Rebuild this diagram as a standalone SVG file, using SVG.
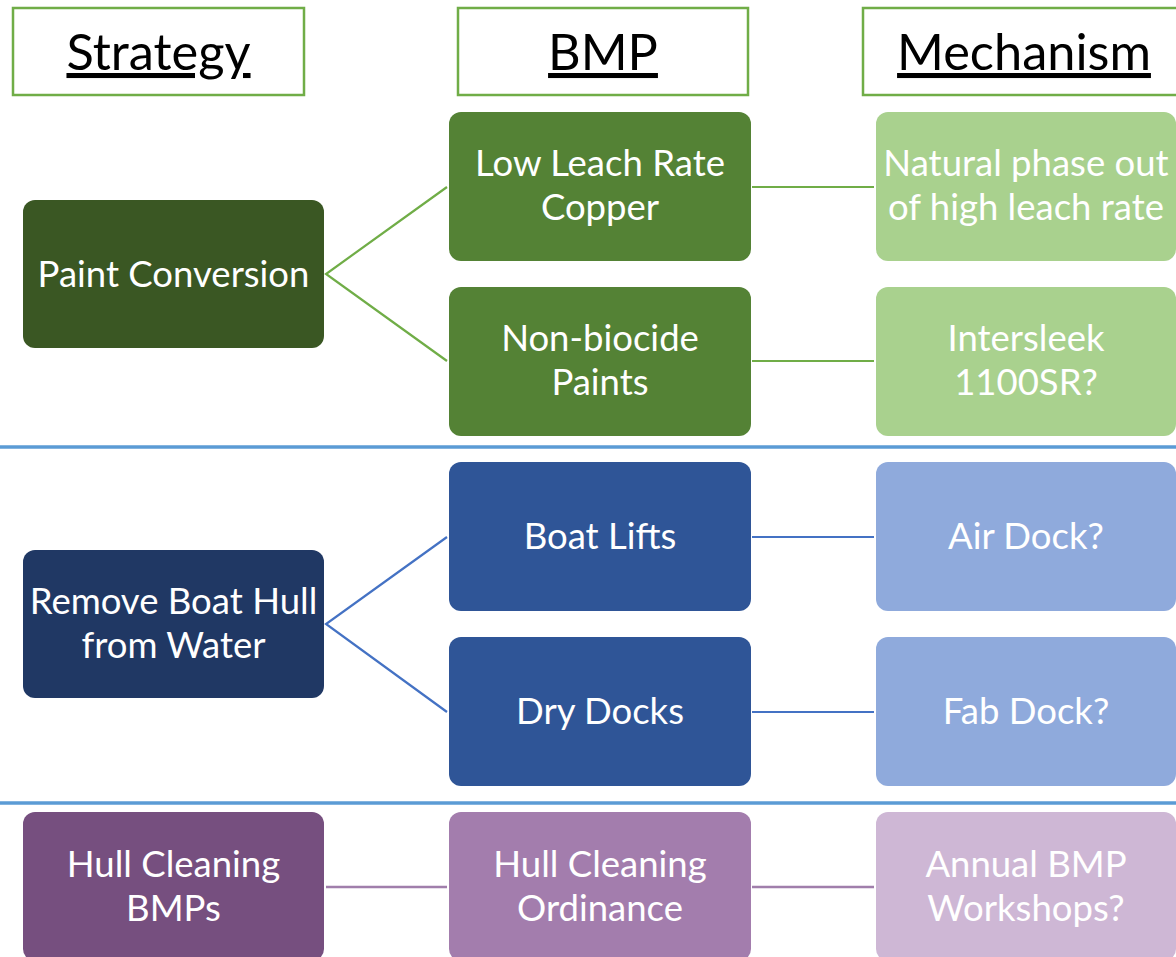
<svg xmlns="http://www.w3.org/2000/svg" width="1176" height="957" viewBox="0 0 1176 957">
<style>
.hdr{fill:#fff;stroke:#70AD47;stroke-width:2.5}
.ht{font-family:Lato,"Liberation Sans",sans-serif;font-size:50.5px;fill:#000;text-anchor:middle;text-decoration:underline}
.t{font-family:Lato,"Liberation Sans",sans-serif;font-size:36.5px;fill:#fff;text-anchor:middle}
.sep{stroke:#5B9BD5;stroke-width:3.5}
.cg{stroke:#70AD47;stroke-width:2.2;fill:none}
.cb{stroke:#4472C4;stroke-width:2.2;fill:none}
.cp{stroke:#A07EAB;stroke-width:2.5;fill:none}
</style>
<rect width="1176" height="957" fill="#fff"/>
<g id="header-strategy"><rect class="hdr" x="13" y="8" width="291" height="87"/><text class="ht" x="158.5" y="70">Strategy</text></g>
<g id="header-bmp"><rect class="hdr" x="458" y="8" width="290" height="87"/><text class="ht" x="603" y="70">BMP</text></g>
<g id="header-mechanism"><rect class="hdr" x="863" y="8" width="330" height="87"/><text class="ht" x="1024" y="70">Mechanism</text></g>
<g id="separators"><line class="sep" x1="0" y1="447" x2="1176" y2="447"/><line class="sep" x1="0" y1="803" x2="1176" y2="803"/></g>
<g id="connectors">
<polyline class="cg" points="447,187 326,274 447,361"/>
<line class="cg" x1="752" y1="187" x2="874" y2="187"/>
<line class="cg" x1="752" y1="361" x2="874" y2="361"/>
<polyline class="cb" points="447,537 326,624 447,712"/>
<line class="cb" x1="752" y1="537" x2="874" y2="537"/>
<line class="cb" x1="752" y1="712" x2="874" y2="712"/>
<line class="cp" x1="326" y1="887" x2="447" y2="887"/>
<line class="cp" x1="752" y1="887" x2="874" y2="887"/>
</g>
<g id="paint-conversion"><rect x="23" y="200" width="301" height="148" rx="12" fill="#3A5723"/><text class="t" x="173.5" y="287">Paint Conversion</text></g>
<g id="low-leach"><rect x="449" y="112" width="302" height="149" rx="12" fill="#548235"/><text class="t" x="600" y="176">Low Leach Rate</text><text class="t" x="600" y="220">Copper</text></g>
<g id="non-biocide"><rect x="449" y="287" width="302" height="149" rx="12" fill="#548235"/><text class="t" x="600" y="351">Non-biocide</text><text class="t" x="600" y="395">Paints</text></g>
<g id="natural-phase"><rect x="876" y="112" width="300" height="149" rx="12" fill="#A9D18E"/><text class="t" x="1026" y="176">Natural phase out</text><text class="t" x="1026" y="220">of high leach rate</text></g>
<g id="intersleek"><rect x="876" y="287" width="300" height="149" rx="12" fill="#A9D18E"/><text class="t" x="1026" y="351">Intersleek</text><text class="t" x="1026" y="395">1100SR?</text></g>
<g id="remove-hull"><rect x="23" y="550" width="301" height="148" rx="12" fill="#203864"/><text class="t" x="173.5" y="614">Remove Boat Hull</text><text class="t" x="173.5" y="658">from Water</text></g>
<g id="boat-lifts"><rect x="449" y="462" width="302" height="149" rx="12" fill="#2F5597"/><text class="t" x="600" y="549">Boat Lifts</text></g>
<g id="dry-docks"><rect x="449" y="637" width="302" height="149" rx="12" fill="#2F5597"/><text class="t" x="600" y="724">Dry Docks</text></g>
<g id="air-dock"><rect x="876" y="462" width="300" height="149" rx="12" fill="#8FAADC"/><text class="t" x="1026" y="549">Air Dock?</text></g>
<g id="fab-dock"><rect x="876" y="637" width="300" height="149" rx="12" fill="#8FAADC"/><text class="t" x="1026" y="724">Fab Dock?</text></g>
<g id="hull-cleaning-bmps"><rect x="23" y="812" width="301" height="149" rx="12" fill="#764F7F"/><text class="t" x="173.5" y="877">Hull Cleaning</text><text class="t" x="173.5" y="921">BMPs</text></g>
<g id="hull-cleaning-ordinance"><rect x="449" y="812" width="302" height="149" rx="12" fill="#A37DAD"/><text class="t" x="600" y="877">Hull Cleaning</text><text class="t" x="600" y="921">Ordinance</text></g>
<g id="annual-workshops"><rect x="876" y="812" width="300" height="149" rx="12" fill="#CEB7D5"/><text class="t" x="1026" y="877">Annual BMP</text><text class="t" x="1026" y="921">Workshops?</text></g>
</svg>
